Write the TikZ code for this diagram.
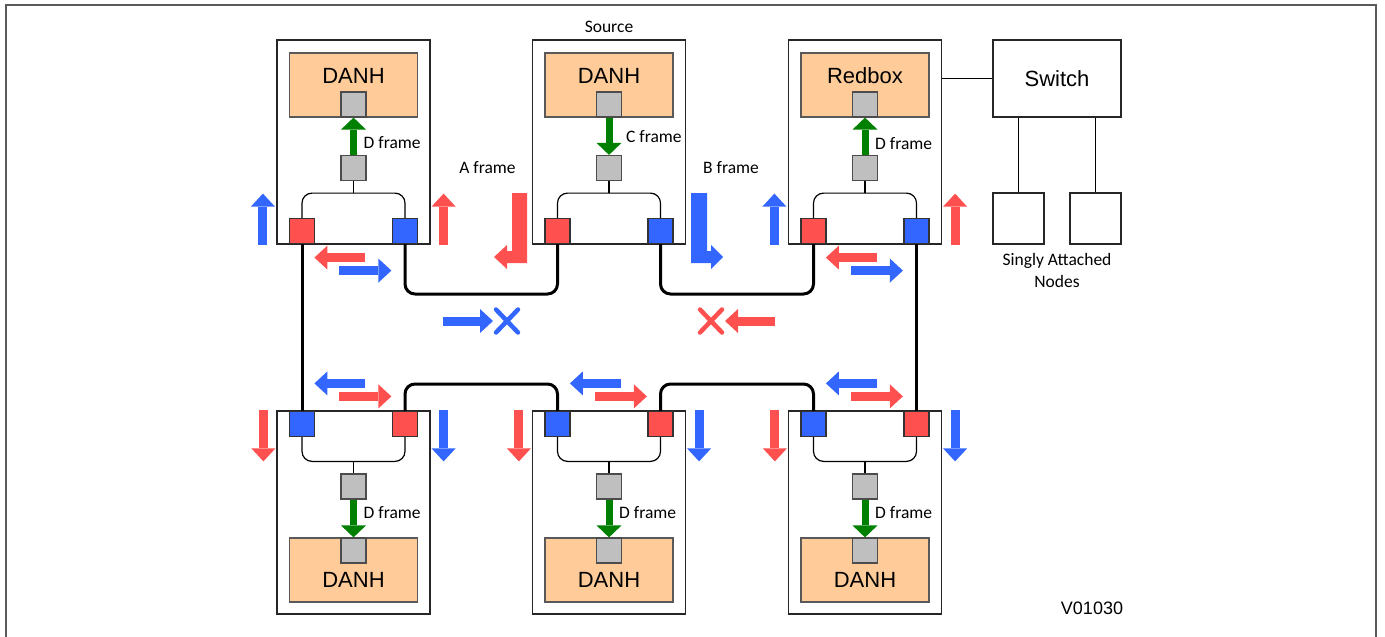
\documentclass[tikz,border=0pt]{standalone}
\usepackage{fontspec}
\setmainfont{Carlito}
\newfontfamily\arialfont{Liberation Sans}
\usetikzlibrary{positioning,arrows.meta}

\definecolor{hsrred}{HTML}{FF5050}
\definecolor{hsrblue}{HTML}{3366FF}
\definecolor{hsrgreen}{HTML}{008000}
\definecolor{danhorange}{HTML}{FFCC99}
\definecolor{portgrey}{HTML}{BFBFBF}
\definecolor{framegrey}{HTML}{5A5A5A}

\tikzset{
  station/.style={draw=black!85, line width=1.2pt, minimum width=153pt, inner sep=0pt},
  danh/.style={draw=black!65, line width=1.2pt, fill=danhorange, minimum width=128pt, minimum height=64pt, inner sep=0pt, font=\arialfont\fontsize{22}{26}\selectfont},
  danhtop/.style={text height=24pt, text depth=28pt},
  danhbottom/.style={text height=43pt, text depth=9pt},
  greysq/.style={draw=black!70, line width=1.2pt, fill=portgrey, minimum size=25pt, inner sep=0pt},
  port/.style={draw=black!80, line width=1.2pt, minimum size=25pt, inner sep=0pt},
  bus/.style={line width=1.2pt, rounded corners=10pt},
  link/.style={line width=3pt, rounded corners=10pt},
  fatarrow/.style={line width=9pt, -{Triangle[length=13pt,width=24pt,line width=0pt]}},
  greenarrow/.style={hsrgreen, line width=7pt, -{Triangle[length=12pt,width=25pt,line width=0pt]}},
  lbl/.style={font=\fontsize{17.5}{22}\selectfont, inner sep=0pt},
  plainbox/.style={draw=black!85, line width=1.2pt, inner sep=0pt},
  crossmark/.style={line width=4.5pt, line cap=round},
}

\begin{document}
\begin{tikzpicture}[x=1pt, y=-1pt]
\useasboundingbox (0,0) rectangle (1385,637);
\draw[framegrey, line width=2pt] (6,637) -- (6,5) -- (1376,5) -- (1376,637);

% upper stations
\foreach \n/\cx/\t in {tl/353.5/DANH, tm/609/DANH, tr/865/Redbox}{
  \node[station, minimum height=204pt] (\n) at (\cx,142) {};
  \node[danh, danhtop] (\n-danh) at (\cx,85) {\t};
  \node[greysq, anchor=south] (\n-gu) at (\n-danh.south) {};
  \node[greysq] (\n-gl) at (\cx,168) {};
  \node[port, fill=hsrred, anchor=south] (\n-a) at (\cx-51.5,244) {};
  \node[port, fill=hsrblue, anchor=south] (\n-b) at (\cx+51.5,244) {};
  \draw[bus] (\n-gl.south) -- ++(0,12);
  \draw[bus] (\n-a.north) |- ([yshift=-12pt]\n-gl.south) -| (\n-b.north);
}

% lower stations
\foreach \n/\cx in {bl/353.5, bm/609, br/865}{
  \node[station, minimum height=203pt] (\n) at (\cx,512.5) {};
  \node[port, fill=hsrblue, anchor=north] (\n-a) at (\cx-51.5,411) {};
  \node[port, fill=hsrred, anchor=north] (\n-b) at (\cx+51.5,411) {};
  \node[greysq] (\n-gu) at (\cx,486.5) {};
  \node[danh, danhbottom] (\n-danh) at (\cx,570) {DANH};
  \node[greysq, anchor=north] (\n-gd) at (\n-danh.north) {};
  \draw[bus] (\n-gu.north) -- ++(0,-12);
  \draw[bus] (\n-a.south) |- ([yshift=12pt]\n-gu.north) -| (\n-b.south);
  \draw[greenarrow] (\n-gu.south) -- (\n-gd.north);
  \node[lbl, anchor=west] (\n-lbl) at (\cx+10,513) {D frame};
  % traffic on the lower ring
  \draw[fatarrow, hsrred] ([xshift=-13pt]\n.north west) -- ++(0,51);
  \draw[fatarrow, hsrblue] ([xshift=13pt]\n.north east) -- ++(0,51);
  \draw[fatarrow, hsrblue] ([xshift=89pt,yshift=27pt]\n.north west) -- ++(-51,0);
  \draw[fatarrow, hsrred] ([xshift=63pt,yshift=14pt]\n.north west) -- ++(52,0);
}

% traffic beside the upper stations
\foreach \n in {tl, tr}{
  \draw[fatarrow, hsrblue] ([xshift=-13.5pt]\n.south west) -- ++(0,-51);
  \draw[fatarrow, hsrred] ([xshift=13pt]\n.south east) -- ++(0,-51);
  \draw[fatarrow, hsrred] ([xshift=89pt,yshift=-13pt]\n.south west) -- ++(-51,0);
  \draw[fatarrow, hsrblue] ([xshift=63pt,yshift=-26pt]\n.south west) -- ++(52,0);
}

\draw[greenarrow] (tl-gl.north) -- (tl-gu.south);
\draw[greenarrow] (tm-gu.south) -- (tm-gl.north);
\draw[greenarrow] (tr-gl.north) -- (tr-gu.south);
\node[lbl, anchor=west] (tl-lbl) at (363.5,143) {D frame};
\node[lbl, anchor=west] (tm-lbl) at (626,137) {C frame};
\node[lbl, anchor=west] (tr-lbl) at (875,144) {D frame};
\node[lbl, above=7pt of tm] (src) {Source};

% ring
\draw[link] (tl-a.south) -- (bl-a.north);
\draw[link] (tl-b.south) -- ++(0,50) -| (tm-a.south);
\draw[link] (tm-b.south) -- ++(0,50) -| (tr-a.south);
\draw[link] (tr-b.south) -- (br-b.north);
\draw[link] (bl-b.north) -- ++(0,-27) -| (bm-a.north);
\draw[link] (bm-b.north) -- ++(0,-27) -| (br-a.north);

% frames sent by the source
\fill[hsrred] (527,193) -- (527,263) -- (507,263) -- (507,269) -- (494,257) -- (507,245) -- (507,251) -- (512,251) -- (512,193) -- cycle;
\fill[hsrblue] (691,193) -- (691,263) -- (711,263) -- (711,269) -- (723,257) -- (711,245) -- (711,251) -- (707,251) -- (707,193) -- cycle;
\node[lbl] (alabel) at (487.5,168) {A frame};
\node[lbl] (blabel) at (731,168) {B frame};

% discarded duplicates
\draw[fatarrow, hsrblue] (443,321) -- (493,321);
\draw[crossmark, hsrblue] (496,309.5) -- (518,332.5) (496,332.5) -- (518,309.5);
\draw[fatarrow, hsrred] (775,321) -- (725,321);
\draw[crossmark, hsrred] (700,309.5) -- (722,332.5) (700,332.5) -- (722,309.5);

% redbox side
\node[plainbox, minimum width=128pt, minimum height=77pt, font=\arialfont\fontsize{22}{26}\selectfont] (sw) at (1057,78.5) {Switch};
\draw[line width=1.2pt] (sw.west) -- (sw.west -| tr.east);
\node[plainbox, minimum size=51pt] (san1) at (1018.5,218.5) {};
\node[plainbox, minimum size=51pt] (san2) at (1095.5,218.5) {};
\draw[line width=1.2pt] (san1.north) -- (san1.north |- sw.south);
\draw[line width=1.2pt] (san2.north) -- (san2.north |- sw.south);
\node[lbl, align=center] (sanlabel) at (1057,270) {Singly Attached\\Nodes};

\node[font=\arialfont\fontsize{18}{22}\selectfont] (ver) at (1092,608) {V01030};
\end{tikzpicture}
\end{document}
